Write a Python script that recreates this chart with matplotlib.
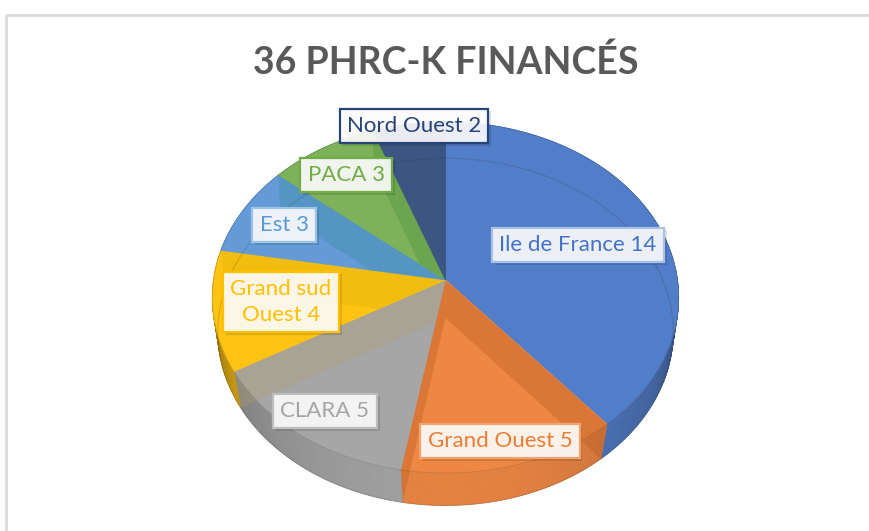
import numpy as np
import matplotlib
matplotlib.use('Agg')
import matplotlib.pyplot as plt
import matplotlib.patheffects as pe
from matplotlib.patches import Polygon, Rectangle

# Données du graphique
regions = ['Ile de France', 'Grand Ouest', 'CLARA', 'Grand sud\nOuest', 'Est', 'PACA', 'Nord Ouest']
projets = [14, 5, 5, 4, 3, 3, 2]
titre = '36 PHRC-K FINANCÉS'

couleurs_face = ['#527DC8', '#EE8743', '#A6A6A6', '#FFC314', '#649BD7', '#7DB25A', '#3C5582']
couleurs_texte = ['#4472C4', '#ED7D31', '#A5A5A5', '#FFC000', '#5B9BD5', '#70AD47', '#264478']
couleurs_bord = ['#A9C0E8', '#F2A36E', '#BDBDBD', '#FFC000', '#9CC3E8', '#70AD47', '#264478']
couleurs_paroi = ['#B2551B', '#B2551B', '#AD9D6B', '#D7B203', '#328A96', '#46873C', '#264478']
# secteur dans lequel chaque paroi apparait par transparence
secteur_paroi = [1, 1, 2, 3, 4, 5, 6]

# Position des étiquettes (centre, en pixels)
pos_x = [578, 500, 325, 281, 284, 346, 414]
pos_y = [245, 441, 411, 302, 225, 175, 126]

W, H = 869, 531


def projeter(theta, cy, a, b, k):
    # cercle vu en perspective, theta en radians depuis midi, sens horaire
    X, Y = np.sin(theta), np.cos(theta)
    return 445.5 + a * X / (1 + k * Y), cy - b * Y / (1 + k * Y)


def haut(theta):
    return projeter(theta, 280, 232, 173.8, 0.10)


def bas(theta):
    return projeter(theta, 318, 227, 172.5, 0.08)


fig = plt.figure(figsize=(W / 100, H / 100), dpi=100)
ax = fig.add_axes([0, 0, 1, 1])
ax.set_xlim(0, W)
ax.set_ylim(H, 0)
ax.axis('off')

# Cadre du graphique
ax.add_patch(Rectangle((6, 15), W + 20, H + 20, fill=False, ec='#D9D9D9', lw=2))

bornes = np.deg2rad(np.concatenate([[0], np.cumsum(projets)]) / sum(projets) * 360)

# Paroi extérieure, plus sombre sur les côtés
for i in range(len(projets)):
    t = np.arange(bornes[i], bornes[i + 1] + 0.001, np.deg2rad(1))
    t = np.append(t, bornes[i + 1])
    for t0, t1 in zip(t[:-1], t[1:]):
        x0, y0 = haut(t0)
        x1, y1 = haut(t1)
        x2, y2 = bas(t1)
        x3, y3 = bas(t0)
        ombre = 0.58 + 0.38 * abs(np.cos((t0 + t1) / 2))
        c = np.array(matplotlib.colors.to_rgb(couleurs_face[i])) * ombre
        ax.add_patch(Polygon([(x0, y0), (x1, y1), (x2, y2), (x3, y3)], fc=c, ec=c, lw=0.5, zorder=2))

# Face supérieure
for i in range(len(projets)):
    t = np.linspace(bornes[i], bornes[i + 1], 100)
    x, y = haut(t)
    pts = [(445.5, 280)] + list(zip(x, y))
    ax.add_patch(Polygon(pts, fc=couleurs_face[i], ec=couleurs_face[i], lw=0.6, zorder=3))

# Parois intérieures vues par transparence, limitées au secteur concerné
for i in range(len(projets)):
    xh, yh = haut(bornes[i + 1])
    xb, yb = bas(bornes[i + 1])
    pts = [(445.5, 280), (xh, yh), (xb, yb), (445.5, 318)]
    paroi = Polygon(pts, fc=couleurs_paroi[i], ec='none', alpha=0.3, zorder=4)
    ax.add_patch(paroi)
    s = secteur_paroi[i]
    t = np.linspace(bornes[s], bornes[s + 1], 60)
    x, y = haut(t)
    masque = Polygon([(445.5, 280)] + list(zip(445.5 + 1.4 * (x - 445.5), 280 + 1.4 * (y - 280))),
                     transform=ax.transData, fc='none', ec='none')
    paroi.set_clip_path(masque)

# Contour du fond et bord de la face
t = np.linspace(0, 2 * np.pi, 360)
xb, yb = bas(t)
ax.plot(xb, yb, color='#333333', lw=0.7, alpha=0.2, zorder=5)
xh, yh = haut(t)
ax.plot(xh, yh, color='#333333', lw=0.6, alpha=0.2, zorder=5)

# Étiquettes
for i in range(len(projets)):
    texte = f'{regions[i]} {projets[i]}'
    txt = ax.text(pos_x[i], pos_y[i], texte, color=couleurs_texte[i], fontsize=16, family='Lato',
                  ha='center', va='center', ma='center', linespacing=1.37, zorder=7,
                  bbox=dict(boxstyle='square,pad=0.33', fc=(1, 1, 1, 0.9), ec=couleurs_bord[i], lw=1.6))
    txt.get_bbox_patch().set_path_effects([
        pe.SimplePatchShadow(offset=(2, -2), shadow_rgbFace='#000000', alpha=0.12),
        pe.Normal()])

ax.text(446, 62, titre, color='#595959', fontsize=27, fontweight='bold', family='Lato',
        ha='center', va='center')

fig.savefig('out.png', dpi=100)
